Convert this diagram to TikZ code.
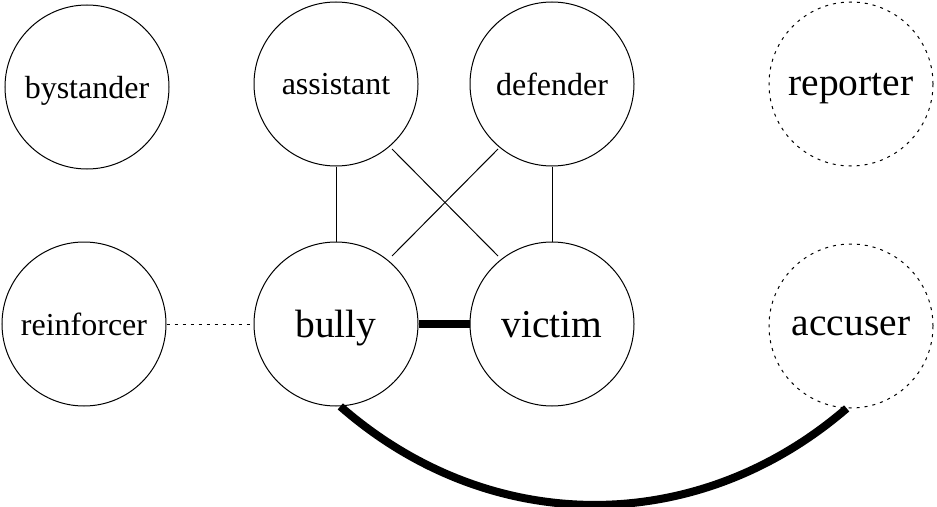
\documentclass[tikz,border=0pt]{standalone}
\usepackage{fontspec}
\setmainfont{Liberation Serif}
\begin{document}
\begin{tikzpicture}[x=0.75pt,y=0.75pt,
  role/.style={circle,draw,line width=0.75pt,minimum size=123pt,inner sep=0pt,text depth=0pt},
  small/.style={font=\fontsize{24}{28}\selectfont},
  big/.style={font=\fontsize{29.6}{34}\selectfont},
  dotc/.style={dash pattern=on 2.25pt off 3.75pt},
  thin/.style={line width=0.75pt},
  heavy/.style={line width=6pt}]
\useasboundingbox (0,0) rectangle (937,-506);
\node[role,small] (bystander) at (87,-87) {bystander};
\node[role,small] (assistant) at (336,-84) {assistant};
\node[role,small] (defender) at (552,-84) {defender};
\node[role,big,dotc] (reporter) at (851,-84) {reporter};
\node[role,small] (reinforcer) at (84,-324) {reinforcer};
\node[role,big] (bully) at (336,-324) {bully};
\node[role,big] (victim) at (552,-324) {victim};
\node[role,big,dotc] (accuser) at (851,-326) {accuser};
\draw[thin] (assistant) -- (bully);
\draw[thin] (defender) -- (victim);
\draw[thin] ([shift={(56,-65)}]assistant.center) -- ([shift={(-54,68)}]victim.center);
\draw[thin] ([shift={(-54,-65)}]defender.center) -- ([shift={(56,68)}]bully.center);
\draw[thin,dotc] (reinforcer) -- (bully);
\draw[heavy] (bully) -- (victim);
\draw[heavy] (bully.-87) to[bend right=41] (accuser.-93);
\end{tikzpicture}
\end{document}
